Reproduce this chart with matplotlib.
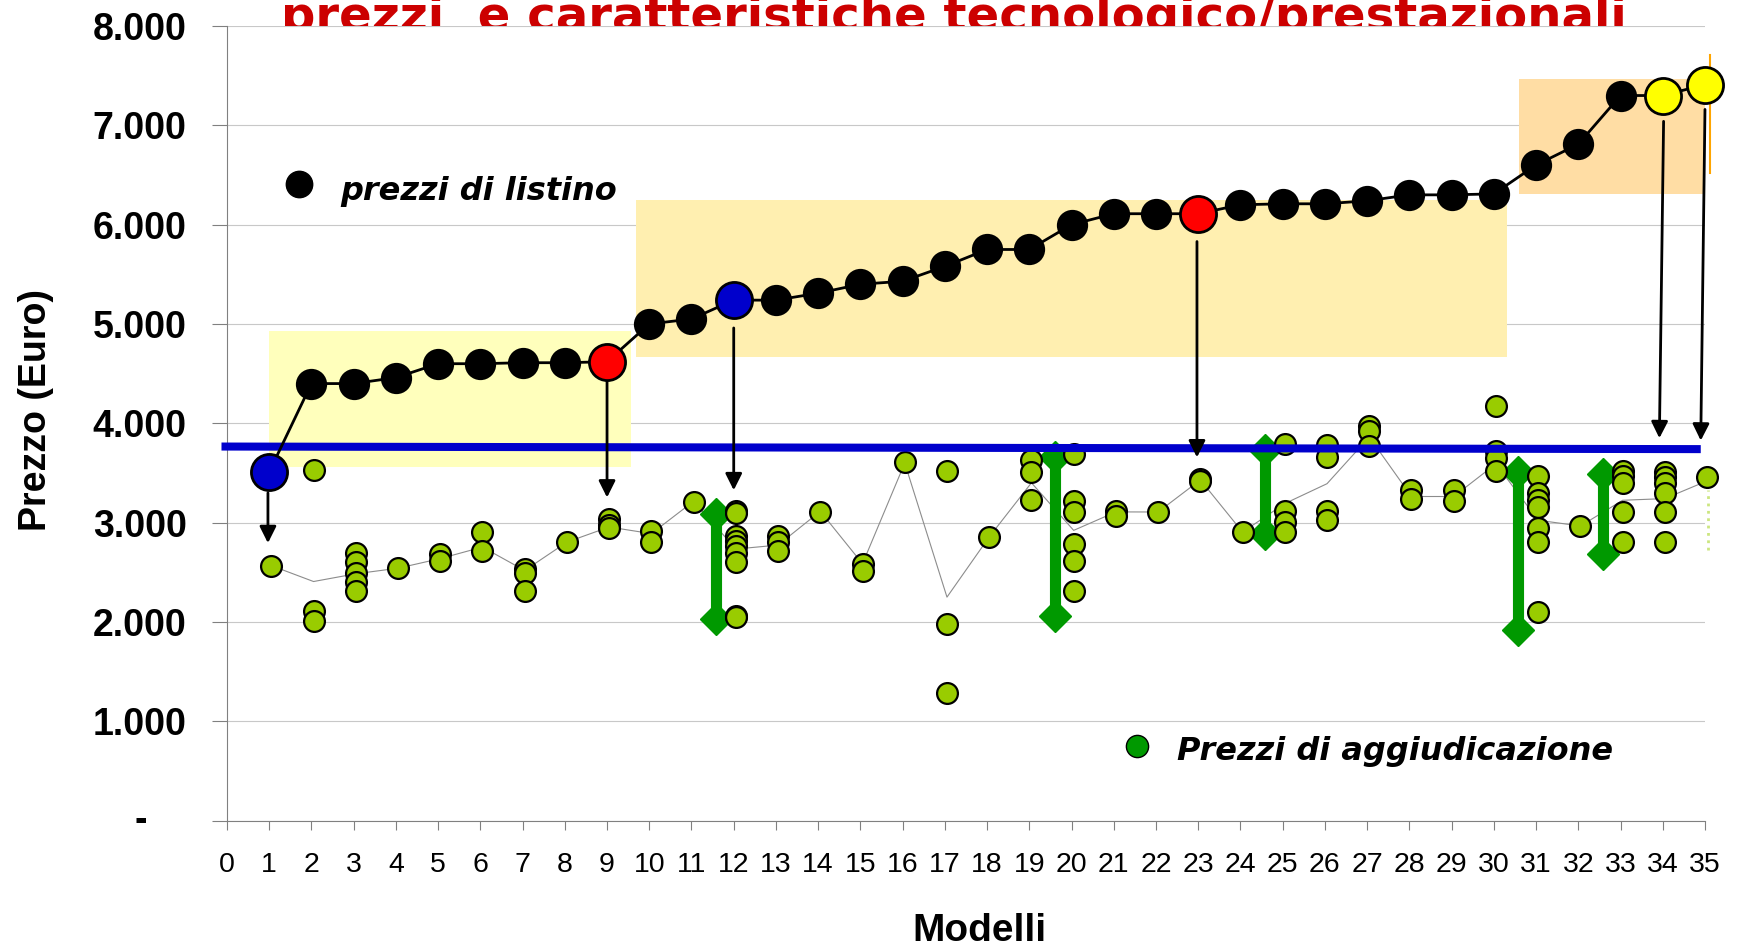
import numpy as np
import matplotlib
matplotlib.use('Agg')
import matplotlib.pyplot as plt
from matplotlib.patches import Rectangle

# list prices per model (1..35)
models = np.arange(1, 36)
list_prices = [3510, 4400, 4400, 4460, 4600, 4600, 4610, 4610, 4620, 5000,
               5050, 5240, 5240, 5310, 5400, 5430, 5580, 5750, 5750, 6000,
               6110, 6110, 6110, 6200, 6210, 6210, 6240, 6300, 6300, 6310,
               6600, 6810, 7300, 7300, 7410]
highlight_models = [1, 9, 12, 23, 34, 35]
highlight_colors = ['#0000CC', '#FF0000', '#0000CC', '#FF0000', '#FFFF00', '#FFFF00']

# awarded prices (model, price)
award_model = [1,
               2, 2, 2,
               3, 3, 3, 3, 3,
               4,
               5, 5,
               6, 6,
               7, 7, 7,
               8,
               9, 9, 9,
               10, 10,
               11,
               12, 12, 12, 12, 12, 12, 12, 12, 12,
               13, 13, 13,
               14,
               15, 15,
               16,
               17, 17, 17,
               18,
               19, 19, 19,
               20, 20, 20, 20, 20, 20,
               21, 21,
               22,
               23, 23,
               24,
               25, 25, 25, 25,
               26, 26, 26, 26,
               27, 27, 27,
               28, 28,
               29, 29,
               30, 30, 30, 30,
               31, 31, 31, 31, 31, 31, 31,
               32,
               33, 33, 33, 33, 33,
               34, 34, 34, 34, 34, 34,
               35]
award_price = [2560,
               3530, 2110, 2010,
               2690, 2600, 2490, 2400, 2310,
               2540,
               2680, 2610,
               2910, 2710,
               2530, 2490, 2310,
               2800,
               3040, 2980, 2950,
               2920, 2800,
               3210,
               3120, 3100, 2870, 2820, 2760, 2690, 2600, 2060, 2050,
               2870, 2800, 2710,
               3110,
               2580, 2510,
               3610,
               3520, 1980, 1280,
               2860,
               3630, 3510, 3230,
               3690, 3220, 3110, 2780, 2610, 2310,
               3120, 3070,
               3110,
               3440, 3420,
               2910,
               3790, 3120, 3010, 2910,
               3780, 3660, 3120, 3030,
               3970, 3920, 3770,
               3330, 3240,
               3330, 3220,
               4170, 3720, 3650, 3520,
               3470, 3300, 3230, 3160, 2950, 2800, 2100,
               2970,
               3520, 3470, 3400, 3110, 2800,
               3510, 3460, 3400, 3300, 3110, 2800,
               3460]

# thin grey line through the award prices
award_line = [2567, 2407, 2485, 2541, 2638, 2754, 2518, 2804, 2956, 2889,
              3215, 2734, 2774, 3114, 2586, 3600, 2250, 2856, 3401, 2922,
              3108, 3107, 3430, 2905, 3192, 3392, 3862, 3263, 3263, 3592,
              3024, 2966, 3225, 3242, 3420]

# reference (blue) line
ref_x = [-0.13, 34.9]
ref_y = [3766, 3740]

# green ranges
range_x = [11.57, 19.6, 24.58, 30.58, 32.59]
range_low = [2030, 2064, 2889, 1915, 2687]
range_high = [3091, 3663, 3730, 3511, 3485]

# arrows from list price to award price
arrow_x0 = [0.97, 9.0, 12.0, 22.97, 34.02, 35.0]
arrow_x1 = [0.97, 9.0, 12.0, 22.97, 33.92, 34.9]
arrow_y0 = [3300, 4420, 4960, 5830, 7040, 7160]
arrow_y1 = [2794, 3253, 3326, 3657, 3850, 3826]

# shaded bands
band_x0 = [1.0, 9.69, 30.59]
band_x1 = [9.57, 30.31, 35.12]
band_y0 = [3556, 4672, 6308]
band_y1 = [4932, 6250, 7465]
band_colors = ['#FFFFBC', '#FFEFB0', '#FFDDA4']

y_ticks = [0, 1000, 2000, 3000, 4000, 5000, 6000, 7000, 8000]
y_labels = ['', '1.000', '2.000', '3.000', '4.000', '5.000', '6.000', '7.000', '8.000']
x_ticks = list(range(0, 36))

title = 'prezzi  e caratteristiche tecnologico/prestazionali'
sans = ['Liberation Sans', 'DejaVu Sans']

fig = plt.figure(figsize=(17.38, 9.49), dpi=100)
ax = fig.add_axes([0.1306, 0.1353, 0.8504, 0.8373])

# title sits behind the axes so its bottom is hidden by the plot area
fig.text(281 / 1738, (949 - 31) / 949, title, color='#CC0000', fontsize=34.7,
         fontweight='bold', family='DejaVu Sans', ha='left', va='baseline', zorder=-1)

for x0, x1, y0, y1, c in zip(band_x0, band_x1, band_y0, band_y1, band_colors):
    ax.add_patch(Rectangle((x0, y0), x1 - x0, y1 - y0, facecolor=c, edgecolor='none', zorder=1))
ax.plot([band_x1[2], band_x1[2]], [6520, 7710], color='#FFA500', lw=1.5, zorder=1, clip_on=False)
ax.plot([35.07, 35.07], [2720, 3330], color='#CCE680', lw=2, ls=':', zorder=1, clip_on=False)

# award prices
award_x = np.array(award_model) + 0.05
ax.plot(models + 0.05, award_line, color='#8C8C8C', lw=0.8, zorder=2)
for x, lo, hi in zip(range_x, range_low, range_high):
    ax.plot([x, x], [lo, hi], color='#009900', lw=8, zorder=3, solid_capstyle='butt')
    ax.plot([x, x], [lo, hi], ls='none', marker='D', ms=16, color='#009900', zorder=3)
ax.plot(award_x, award_price, ls='none', marker='o', ms=15, mfc='#99CC00', mec='black',
        mew=1.6, zorder=4, clip_on=False)

ax.plot(ref_x, ref_y, color='#0000CC', lw=5.8, zorder=5, clip_on=False, solid_capstyle='butt')

for xa, xb, ya, yb in zip(arrow_x0, arrow_x1, arrow_y0, arrow_y1):
    ax.annotate('', xy=(xb, yb), xytext=(xa, ya),
                arrowprops=dict(arrowstyle='-|>', color='black', lw=2, mutation_scale=25,
                                shrinkA=0, shrinkB=0), zorder=6, annotation_clip=False)

# list prices
ax.plot(models, list_prices, color='black', lw=2, marker='o', ms=21, mfc='black',
        mec='black', mew=1.5, zorder=7, clip_on=False)
for m, c in zip(highlight_models, highlight_colors):
    ax.plot(m, list_prices[m - 1], marker='o', ms=26, mfc=c, mec='black', mew=2,
            zorder=8, clip_on=False)

# in-plot legend texts
ax.plot(1.71, 6411, marker='o', ms=19, color='black', zorder=8)
ax.text(2.68, 6250, 'prezzi di listino', fontsize=23, fontweight='bold', style='italic',
        family='DejaVu Sans', va='baseline', ha='left', zorder=8)
ax.plot(21.54, 751, marker='o', ms=16, mfc='#009900', mec='black', mew=1, zorder=8)
ax.text(22.49, 610, 'Prezzi di aggiudicazione', fontsize=23, fontweight='bold', style='italic',
        family='DejaVu Sans', va='baseline', ha='left', zorder=8)

ax.set_xlim(0, 35)
ax.set_ylim(0, 8000)
ax.set_xticks(x_ticks)
ax.set_xticklabels([str(t) for t in x_ticks], family=sans, fontsize=20.5)
ax.set_yticks(y_ticks)
ax.set_yticklabels(y_labels, family=sans, fontsize=27, fontweight='bold')
ax.annotate('-', xy=(0, 0), xycoords=('axes fraction', 'data'), xytext=(-62, 0),
            textcoords='offset points', ha='center', va='center', family=sans,
            fontsize=27, fontweight='bold')

ax.tick_params(axis='x', direction='out', length=6.5, color='#808080', pad=16)
ax.tick_params(axis='y', direction='out', length=11, color='#808080', pad=18)
ax.yaxis.grid(True, color='#C8C8C8', lw=0.8)
ax.set_axisbelow(True)
for s in ['top', 'right']:
    ax.spines[s].set_visible(False)
for s in ['left', 'bottom']:
    ax.spines[s].set_color('#808080')

fig.text(36 / 1738, (949 - 410) / 949, 'Prezzo (Euro)', rotation=90, family=sans,
         fontsize=27, fontweight='bold', ha='center', va='center')
fig.text(979 / 1738, (949 - 931) / 949, 'Modelli', family=sans, fontsize=28,
         fontweight='bold', ha='center', va='center')

fig.savefig('out.png', dpi=100)
